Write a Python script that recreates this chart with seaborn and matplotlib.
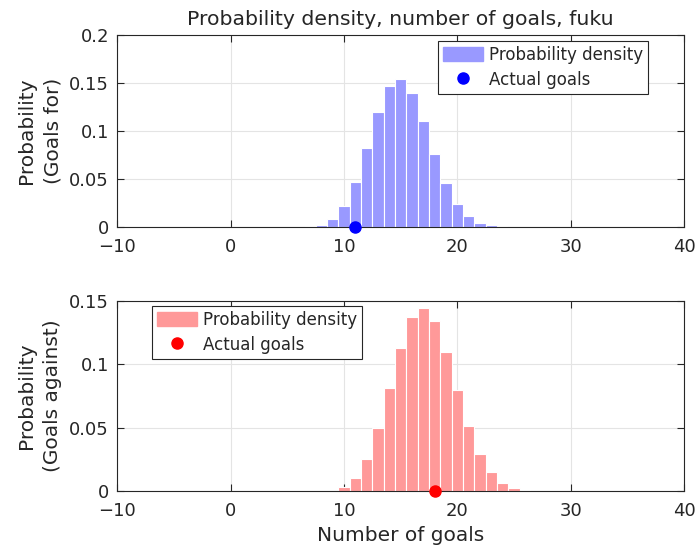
import numpy as np
import pandas as pd
import matplotlib
matplotlib.use('Agg')
import matplotlib.pyplot as plt
import seaborn as sns
from matplotlib.patches import Patch
from matplotlib.lines import Line2D

# 进球数概率分布
goals_for = [7, 8, 9, 10, 11, 12, 13, 14, 15, 16, 17, 18, 19, 20, 21, 22, 23, 24]
prob_for = [0.0005, 0.0014, 0.0084, 0.0218, 0.047, 0.0818, 0.1196, 0.147, 0.154,
            0.140, 0.110, 0.0754, 0.0453, 0.0239, 0.0112, 0.0042, 0.0014, 0.0004]
actual_for = 11

goals_against = [8, 9, 10, 11, 12, 13, 14, 15, 16, 17, 18, 19, 20, 21, 22, 23, 24, 25, 26]
prob_against = [0.0002, 0.0005, 0.0037, 0.0105, 0.0253, 0.0495, 0.081, 0.113, 0.137,
                0.144, 0.134, 0.1095, 0.0795, 0.0513, 0.0297, 0.0153, 0.0068, 0.0026, 0.0008]
actual_against = 18

xticks = [-10, 0, 10, 20, 30, 40]

sns.set_style('white')
plt.rcParams['font.family'] = ['DejaVu Sans']

fig = plt.figure(figsize=(6.97, 5.58), dpi=100)
ax1 = fig.add_axes([0.1683, 0.5937, 0.8131, 0.3435])
ax2 = fig.add_axes([0.1683, 0.1195, 0.8131, 0.3416])


def draw(ax, goals, prob, actual, face, dot, ylim, yticks, ylabel, anchor, loc):
    df = pd.DataFrame({'goals': goals, 'prob': prob})
    sns.histplot(data=df, x='goals', weights='prob', discrete=True, ax=ax,
                 color=face, alpha=1, edgecolor='white', linewidth=0.8, zorder=2)
    ax.plot([actual], [0], 'o', color=dot, markersize=8, clip_on=False, zorder=5)
    ax.set_xlim(-10, 40)
    ax.set_ylim(ylim)
    ax.set_xticks(xticks)
    ax.set_yticks(yticks)
    ax.set_yticklabels([('%g' % t) for t in yticks])
    ax.grid(True, color='#e4e4e4', linewidth=0.8, zorder=0)
    ax.set_axisbelow(True)
    ax.set_ylabel(ylabel, fontsize=14.5, linespacing=1.45, color='#262626', labelpad=5)
    ax.set_xlabel('')
    for s in ax.spines.values():
        s.set_visible(True)
        s.set_color('#262626')
        s.set_linewidth(0.8)
    ax.tick_params(direction='in', length=5, width=0.8, colors='#262626',
                   labelcolor='#262626', labelsize=13, top=True, right=True,
                   bottom=True, left=True)
    ax.tick_params(axis='x', pad=8)
    ax.tick_params(axis='y', pad=6)
    handles = [Patch(facecolor=face, edgecolor=face),
               Line2D([], [], marker='o', color=dot, linestyle='none', markersize=8)]
    leg = ax.legend(handles, ['Probability density', 'Actual goals'], loc=loc,
                    bbox_to_anchor=anchor, borderaxespad=0,
                    fontsize=12, frameon=True, fancybox=False, framealpha=1,
                    edgecolor='#262626', borderpad=0.3, handlelength=2.4,
                    handleheight=0.9, handletextpad=0.35, labelspacing=0.4)
    leg.get_frame().set_linewidth(0.8)
    for t in leg.get_texts():
        t.set_color('#262626')


draw(ax1, goals_for, prob_for, actual_for, '#9999ff', '#0000ff',
     (0, 0.2), [0, 0.05, 0.1, 0.15, 0.2], 'Probability\n(Goals for)',
     (0.936, 0.969), 'upper right')
draw(ax2, goals_against, prob_against, actual_against, '#ff9999', '#ff0000',
     (0, 0.15), [0, 0.05, 0.1, 0.15], 'Probability\n(Goals against)',
     (0.062, 0.973), 'upper left')

ax1.set_title('Probability density, number of goals, fuku', fontsize=14.7, pad=7,
              color='#262626')
ax2.set_xlabel('Number of goals', fontsize=14.5, color='#262626', labelpad=4)

fig.savefig('out.png', dpi=100)
